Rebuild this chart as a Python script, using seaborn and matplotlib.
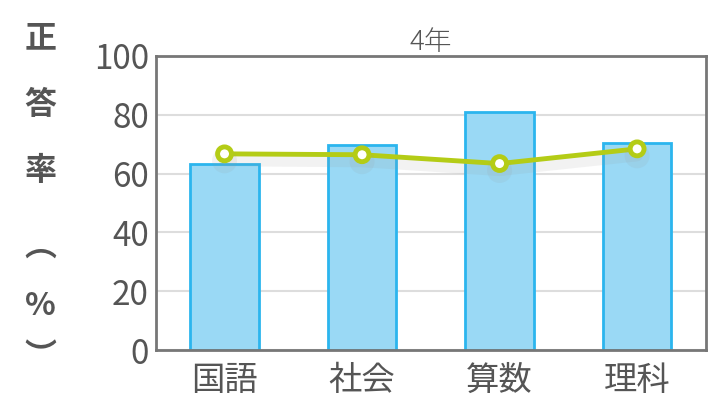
import matplotlib
matplotlib.use("Agg")
import matplotlib.pyplot as plt
import matplotlib.patheffects as pe
import pandas as pd
import seaborn as sns

# data
subjects = ['国語', '社会', '算数', '理科']
school_rate = [63.3, 69.6, 81.0, 70.3]    # bars
average_rate = [66.7, 66.4, 63.4, 68.4]   # line
title = '4年'
ylabel_chars = ['正', '答', '率', '︵', '%', '︶']

sns.set_style('white')
plt.rcParams['font.family'] = ['Noto Sans CJK JP', 'DejaVu Sans']

df = pd.DataFrame({'subject': subjects, 'school': school_rate, 'average': average_rate})

fig = plt.figure(figsize=(7.08, 4.08), dpi=100)
ax = fig.add_axes([0.220, 0.142, 0.777, 0.721])

sns.barplot(data=df, x='subject', y='school', ax=ax, width=0.5,
            color='#9ad9f5', edgecolor='#2bb5ee', linewidth=2, saturation=1, zorder=2)

sns.pointplot(data=df, x='subject', y='average', ax=ax, color='#b4cc16',
              markers='o', linewidth=3.5, markersize=10, zorder=4)
for ln in ax.lines:
    ln.set_markerfacecolor('white')
    ln.set_markeredgecolor('#b4cc16')
    ln.set_markeredgewidth(3.5)
    ln.set_path_effects([pe.SimpleLineShadow(offset=(0, -5), shadow_color='#999999', alpha=0.12, linewidth=8),
                         pe.Normal()])

ax.set_ylim(0, 100)
ax.set_xlim(-0.5, 3.5)
ax.set_yticks([0, 20, 40, 60, 80, 100])
ax.yaxis.grid(True, color='#dddddd', linewidth=1.5, zorder=0)
ax.set_axisbelow(True)
ax.set_xlabel('')
ax.set_ylabel('')
ax.tick_params(axis='both', colors='#555555', labelsize=24, length=0)
ax.tick_params(axis='x', pad=9)
ax.tick_params(axis='y', pad=5)
for sp in ax.spines.values():
    sp.set_color('#777777')
    sp.set_linewidth(2)

ax.set_title(title, fontsize=20, color='#555555', pad=4, fontweight='light')

# vertical y label, one character per line
ys = [0.905, 0.742, 0.58, 0.395, 0.25, 0.125]
for ch, y in zip(ylabel_chars, ys):
    fig.text(0.057, y, ch, ha='center', va='center', fontsize=23,
             fontweight='bold', color='#555555')

plt.savefig('out.png', dpi=100)
